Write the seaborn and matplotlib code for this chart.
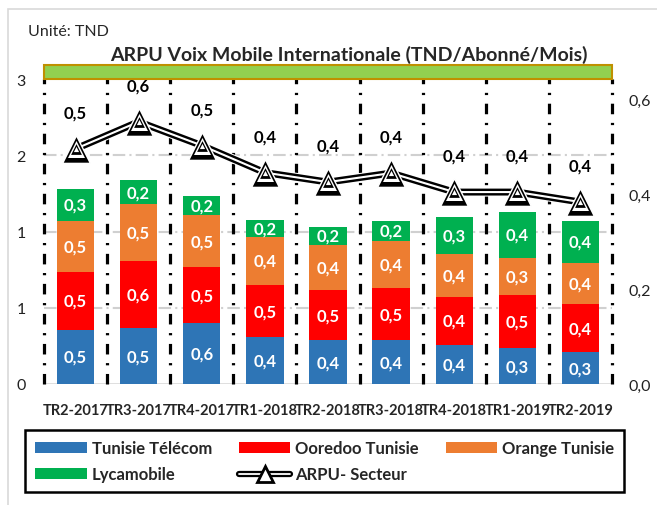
import numpy as np
import pandas as pd
import matplotlib
matplotlib.use('Agg')
import matplotlib.pyplot as plt
import matplotlib.patheffects as pe
from matplotlib.patches import Rectangle, Patch
from matplotlib.lines import Line2D
from matplotlib.legend_handler import HandlerTuple
from matplotlib.ticker import FuncFormatter
import seaborn as sns

# Data
quarters = ['TR2-2017', 'TR3-2017', 'TR4-2017', 'TR1-2018', 'TR2-2018',
            'TR3-2018', 'TR4-2018', 'TR1-2019', 'TR2-2019']
tunisie_telecom = [0.50, 0.51, 0.56, 0.43, 0.40, 0.40, 0.36, 0.33, 0.29]
ooredoo = [0.53, 0.62, 0.51, 0.48, 0.46, 0.48, 0.44, 0.49, 0.44]
orange = [0.47, 0.52, 0.48, 0.44, 0.42, 0.43, 0.39, 0.34, 0.38]
lycamobile = [0.29, 0.22, 0.18, 0.16, 0.16, 0.19, 0.34, 0.42, 0.39]
arpu_secteur = [0.495, 0.552, 0.502, 0.445, 0.425, 0.444, 0.404, 0.404, 0.383]

operators = ['Tunisie Télécom', 'Ooredoo Tunisie', 'Orange Tunisie', 'Lycamobile']
colors = ['#2E75B6', '#FF0000', '#ED7D31', '#00B050']

sns.set_style('white')
plt.rcParams['font.family'] = ['Lato', 'DejaVu Sans']

df = pd.DataFrame({'quarter': quarters, operators[0]: tunisie_telecom,
                   operators[1]: ooredoo, operators[2]: orange, operators[3]: lycamobile})
cum = df[operators].cumsum(axis=1)

fig = plt.figure(figsize=(6.57, 5.06), dpi=100)
ax = fig.add_axes([44 / 657, 1 - 385 / 506, (612 - 44) / 657, (385 - 80) / 506])

# outer light frame of the chart area
fig.add_artist(Rectangle((8 / 657, -0.1), 1.2, 1 - 10 / 506 + 0.1, transform=fig.transFigure,
                         fill=False, edgecolor='#D9D9D9', lw=1.2))

# stacked bars: draw cumulative totals from the top segment down
for op, col in zip(operators[::-1], colors[::-1]):
    sns.barplot(x=df['quarter'], y=cum[op], color=col, width=0.59, linewidth=0,
                saturation=1, ax=ax, zorder=3)

# segment labels
for j, op in enumerate(operators):
    bottoms = cum[op] - df[op]
    for i, v in enumerate(df[op]):
        ax.text(i, bottoms[i] + v / 2, f'{v:.1f}'.replace('.', ','), ha='center', va='center',
                color='white', fontsize=12, fontweight='bold', zorder=5)

ax.set_xlim(-0.5, 8.5)
ax.set_ylim(0, 2.8)
ax.set_yticks([0, 0.7, 1.4, 2.1, 2.8])
ax.yaxis.set_major_formatter(FuncFormatter(lambda v, p: f'{v:.0f}'))
ax.set_xlabel('')
ax.set_ylabel('')
ax.tick_params(axis='both', length=0)
ax.tick_params(axis='y', labelsize=11.5, pad=13, labelcolor='#222222')
ax.tick_params(axis='x', labelsize=10.5, pad=14)
for lbl in ax.get_xticklabels():
    lbl.set_fontweight('bold')
for s in ax.spines.values():
    s.set_visible(False)
ax.axhline(0, color='#D9D9D9', lw=1.2, zorder=2)
for g in [0.7, 1.4, 2.1]:
    ax.axhline(g, color='#D0D0D0', lw=1.5, ls=(0, (6, 2, 1, 2)), zorder=1)

# black dash-dot separators between quarters
ax.vlines(np.arange(-0.5, 9, 1), 0, 2.8, colors='black', lw=2.3,
          linestyles=[(0, (3.3, 2.7, 0.7, 2.7))], zorder=2, clip_on=False)

# green band above the plot area
ax.add_patch(Rectangle((0, 1.0), 1, 14 / 305, transform=ax.transAxes, facecolor='#92D050',
                       edgecolor='#BF9000', lw=1.5, clip_on=False, zorder=4))

# ARPU secteur on the secondary axis
ax2 = ax.twinx()
xs = np.arange(len(quarters))
sns.lineplot(x=xs, y=arpu_secteur, color='black', lw=5, ax=ax2, zorder=6,
             path_effects=[pe.Stroke(linewidth=6.5, foreground='white'), pe.Normal()])
sns.lineplot(x=xs, y=arpu_secteur, color='white', lw=1.5, ax=ax2, zorder=7)
ax2.scatter(xs, arpu_secteur, marker='^', s=400, color='black', edgecolors='white', linewidths=1, zorder=8)
ax2.scatter(xs, arpu_secteur, marker='^', s=150, color='white', linewidths=0, zorder=9)
ax2.scatter(xs, arpu_secteur, marker='^', s=60, color='black', linewidths=0, zorder=10)
ax2.scatter(xs, arpu_secteur, marker='^', s=14, color='white', linewidths=0, zorder=11)
for x, v in zip(xs, arpu_secteur):
    ax2.annotate(f'{v:.1f}'.replace('.', ','), (x, v), xytext=(0, 26), textcoords='offset points',
                 ha='center', va='center', fontsize=12, fontweight='bold', color='black')
ax2.set_ylim(0, 0.642)
ax2.set_yticks([0, 0.2, 0.4, 0.6])
ax2.yaxis.set_major_formatter(FuncFormatter(lambda v, p: f'{v:.1f}'.replace('.', ',')))
ax2.tick_params(axis='y', length=0, labelsize=11.5, pad=12, labelcolor='#222222')
for s in ax2.spines.values():
    s.set_visible(False)
ax2.set_ylabel('')

fig.text(28 / 657, 1 - 32 / 506, 'Unité: TND', fontsize=11.5, va='center', ha='left')
fig.text(349 / 657, 1 - 55 / 506, 'ARPU Voix Mobile Internationale (TND/Abonné/Mois)',
         fontsize=14, fontweight='bold', va='center', ha='center')

# legend (ordered so that it reads row by row)
bar_handles = [Patch(facecolor=c, edgecolor='none') for c in colors]
arpu_handle = (Line2D([], [], color='black', lw=4.5),
               Line2D([], [], color='white', lw=1.3),
               Line2D([], [], ls='none', marker='^', ms=12, mfc='white', mec='black', mew=2))
handles = [bar_handles[0], bar_handles[3], bar_handles[1], arpu_handle, bar_handles[2]]
labels = [operators[0], operators[3], operators[1], 'ARPU- Secteur', operators[2]]
leg = fig.legend(handles, labels, ncol=3, loc='upper left',
                 bbox_to_anchor=(25 / 657, 1 - 431 / 506),
                 fancybox=False, framealpha=1, edgecolor='black',
                 prop={'weight': 'bold', 'size': 12}, handlelength=3.1, handleheight=0.66,
                 handletextpad=0.3, columnspacing=1.6, labelspacing=0.62, borderpad=0.6,
                 borderaxespad=0, handler_map={tuple: HandlerTuple(ndivide=1)})
leg.get_frame().set_linewidth(1.8)

fig.savefig('out.png', dpi=100)
